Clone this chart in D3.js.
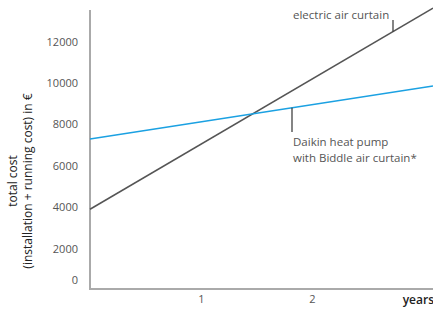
<!DOCTYPE html>
<html>
<head>
<meta charset="utf-8">
<script src="https://cdn.jsdelivr.net/npm/d3@7"></script>
<style>
  body { margin: 0; background: #fff; }
  text { font-family: "Open Sans", "Noto Sans", sans-serif; }
</style>
</head>
<body>
<div id="chart"></div>
<script>
// values
var years = [0, 3.09]
var electric = [3900, 13620]
var daikin = [7300, 9860]
var yTicks = [0, 2000, 4000, 6000, 8000, 10000, 12000]
var xTicks = [1, 2]

var width = 433, height = 310
var svg = d3.select("#chart").append("svg")
    .attr("width", width)
    .attr("height", height)

var x = d3.scaleLinear().domain([0, 3.09]).range([90, 433])
var y = d3.scaleLinear().domain([0, 10000]).range([290, 83])

// axes
var yAxis = svg.append("g")
    .attr("transform", "translate(90,0)")
    .call(d3.axisLeft(y).tickValues(yTicks).tickSize(0).tickPadding(12).tickFormat(d3.format("d")))
yAxis.select(".domain").remove()
yAxis.selectAll("text")
    .attr("fill", "#555")
    .style("font-size", "11px")
    .attr("dy", function(d){ return d === 0 ? "-0.6em" : "0.32em" })

var xAxis = svg.append("g")
    .attr("transform", "translate(0,289)")
    .call(d3.axisBottom(x).tickValues(xTicks).tickSize(0).tickPadding(6).tickFormat(d3.format("d")))
xAxis.select(".domain").remove()
xAxis.selectAll("text")
    .attr("fill", "#555")
    .style("font-size", "11px")

svg.append("line")
    .attr("x1", 90).attr("x2", 90)
    .attr("y1", 10).attr("y2", 290)
    .attr("stroke", "#aaa").attr("stroke-width", 2)
svg.append("line")
    .attr("x1", 89).attr("x2", 433)
    .attr("y1", 289).attr("y2", 289)
    .attr("stroke", "#aaa").attr("stroke-width", 2)

svg.append("text")
    .attr("x", 434).attr("y", 304)
    .attr("text-anchor", "end")
    .attr("fill", "#222")
    .style("font-size", "12px")
    .style("font-weight", "600")
    .text("years")

// y title
var title = svg.append("text")
    .attr("transform", "translate(0,181) rotate(-90)")
    .attr("text-anchor", "middle")
    .attr("fill", "#222")
    .style("font-size", "12px")
title.append("tspan").attr("x", 0).attr("y", 17).text("total cost")
title.append("tspan").attr("x", 0).attr("y", 32).text("(installation + running cost) in €")

// lines
var line = d3.line()
    .x(function(d){ return x(d[0]) })
    .y(function(d){ return y(d[1]) })

svg.append("path")
    .datum(d3.zip(years, electric))
    .attr("fill", "none")
    .attr("stroke", "#555")
    .attr("stroke-width", 1.5)
    .attr("d", line)

svg.append("path")
    .datum(d3.zip(years, daikin))
    .attr("fill", "none")
    .attr("stroke", "#1ba1e2")
    .attr("stroke-width", 1.5)
    .attr("d", line)

// annotations
function valAt(arr, t){ return arr[0] + (arr[1] - arr[0]) * t / years[1] }

var tE = x.invert(393)
svg.append("line")
    .attr("x1", 393).attr("x2", 393)
    .attr("y1", 20).attr("y2", y(valAt(electric, tE)))
    .attr("stroke", "#333").attr("stroke-width", 1.2)
svg.append("text")
    .attr("x", 293).attr("y", 19)
    .attr("fill", "#555")
    .style("font-size", "11.5px")
    .text("electric air curtain")

var tD = x.invert(292)
svg.append("line")
    .attr("x1", 292).attr("x2", 292)
    .attr("y1", y(valAt(daikin, tD))).attr("y2", 132)
    .attr("stroke", "#333").attr("stroke-width", 1.2)
var lab = svg.append("text")
    .attr("fill", "#555")
    .style("font-size", "11.5px")
lab.append("tspan").attr("x", 293).attr("y", 146).text("Daikin heat pump")
lab.append("tspan").attr("x", 293).attr("y", 162).text("with Biddle air curtain*")
</script>
</body>
</html>
